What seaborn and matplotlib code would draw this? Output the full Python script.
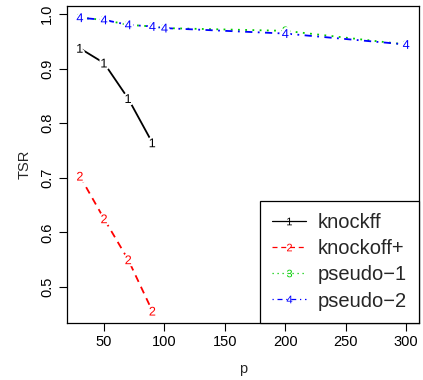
import numpy as np
import pandas as pd
import matplotlib
matplotlib.use("Agg")
import matplotlib.pyplot as plt
import matplotlib.patheffects as pe
import seaborn as sns
from matplotlib.lines import Line2D

# Data
p_knock = [30, 50, 70, 90]
knockff = [0.937, 0.910, 0.845, 0.764]
knockoff_plus = [0.703, 0.625, 0.550, 0.456]
p_pseudo = [30, 50, 70, 90, 100, 200, 300]
pseudo1 = [0.993, 0.989, 0.980, 0.977, 0.974, 0.969, 0.944]
pseudo2 = [0.993, 0.989, 0.980, 0.977, 0.974, 0.964, 0.944]

names = ["knockff", "knockoff+", "pseudo\u22121", "pseudo\u22122"]
colors = ["black", "red", "#00CD00", "blue"]
markers = ["$1$", "$2$", "$3$", "$4$"]
linestyles = ["-", (0, (4, 3)), (0, (1, 3)), (0, (1, 3, 4, 3))]
xticks = [50, 100, 150, 200, 250, 300]
yticks = [0.5, 0.6, 0.7, 0.8, 0.9, 1.0]

frames = []
for nm, xs, ys in [(names[0], p_knock, knockff), (names[1], p_knock, knockoff_plus),
                   (names[2], p_pseudo, pseudo1), (names[3], p_pseudo, pseudo2)]:
    frames.append(pd.DataFrame({"p": xs, "TSR": ys, "method": nm}))
df = pd.concat(frames, ignore_index=True)

sns.set_style("white")
plt.rcParams["font.family"] = ["Liberation Sans", "DejaVu Sans"]
plt.rcParams["mathtext.fontset"] = "custom"
plt.rcParams["mathtext.rm"] = "Liberation Sans"
plt.rcParams["mathtext.it"] = "Liberation Sans"

fig = plt.figure(figsize=(4.23, 3.8), dpi=100)
ax = fig.add_axes([0.158, 0.151, 0.833, 0.834])

pal = dict(zip(names, colors))
sns.lineplot(data=df, x="p", y="TSR", hue="method",
             palette=pal, hue_order=names,
             linewidth=1.3, legend=False, ax=ax, sort=False)
for line, ls in zip(ax.get_lines(), linestyles):
    line.set_linestyle(ls)

# numbered point markers (type "b" look: small white halo breaks the line)
for nm, mk in zip(names, markers):
    sub = df[df["method"] == nm]
    sc = sns.scatterplot(data=sub, x="p", y="TSR", color=pal[nm], marker=mk,
                         s=40, linewidth=0, legend=False, ax=ax, zorder=3)
    sc.collections[-1].set_path_effects([pe.withStroke(linewidth=3, foreground="white")])

ax.set_xlim(19.2, 310.8)
ax.set_ylim(0.435, 1.015)
ax.set_xticks(xticks)
ax.set_yticks(yticks)
ax.set_xticklabels([str(v) for v in xticks])
ax.set_yticklabels([f"{v:.1f}" for v in yticks], rotation=90, va="center")
ax.tick_params(axis="both", direction="out", length=6, width=0.8, labelsize=10.5,
               bottom=True, left=True, colors="black", pad=3)
ax.set_xlabel("p", fontsize=10.5, labelpad=9)
ax.set_ylabel("TSR", fontsize=10.5, labelpad=6)
for s in ax.spines.values():
    s.set_color("black")
    s.set_linewidth(0.9)

handles = [Line2D([0], [0], color=c, linestyle=ls, marker=m, markersize=5.5,
                  markeredgewidth=0, linewidth=0.9)
           for c, ls, m in zip(colors, linestyles, markers)]
leg = ax.legend(handles, names, loc="lower right", borderaxespad=0,
                fontsize=14.5, frameon=True, fancybox=False, edgecolor="black",
                framealpha=1, handlelength=1.7, handletextpad=0.6,
                labelspacing=0.35, borderpad=0.6, numpoints=1)
leg.get_frame().set_linewidth(0.9)
leg.set_zorder(5)

fig.savefig("out.png", dpi=100)
